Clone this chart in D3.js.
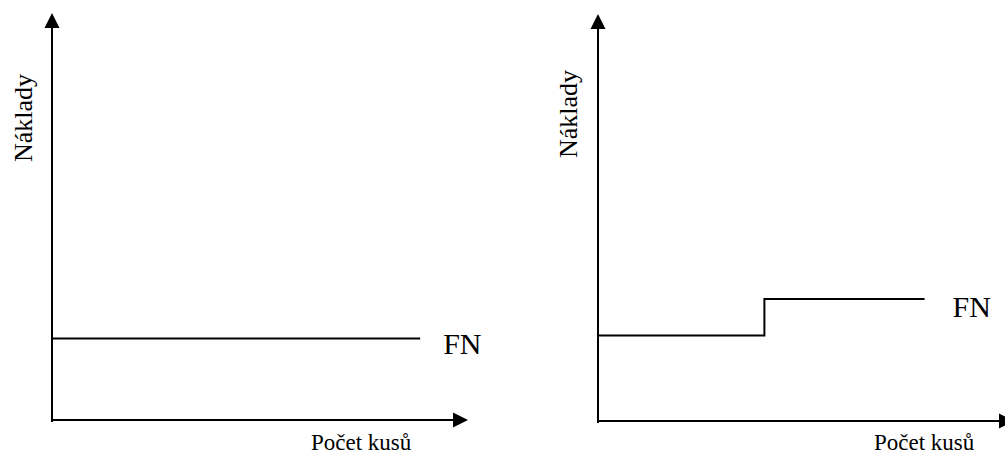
<!DOCTYPE html>
<html>
<head>
<meta charset="utf-8">
<script src="https://cdn.jsdelivr.net/npm/d3@7"></script>
<style>
  html, body { margin: 0; padding: 0; background: #fff; }
  svg { display: block; }
  text { font-family: "Liberation Serif", "Times New Roman", serif; fill: #000; }
</style>
</head>
<body>
<svg id="chart" width="1005" height="454"></svg>
<script>
// ---- data ----
const panels = ["fixed", "stepFixed"];
const xAxisLabel = "Počet kusů";
const yAxisLabel = "Náklady";
const seriesLabel = "FN";
// left panel: constant fixed costs (x, y in 0..100 units)
const fixedX = [0, 88.5];
const fixedY = [20, 20];
// right panel: step fixed costs
const stepX = [0, 40, 40, 78.5];
const stepY = [21, 21, 30, 30];

const svg = d3.select("#chart");

function drawPanel(originX, originY, xs, ys, labelPos) {
  const x = d3.scaleLinear().domain([0, 100]).range([originX, originX + 416]);
  const y = d3.scaleLinear().domain([0, 100]).range([originY, originY - 407]);
  const g = svg.append("g");
  const arrowL = 15, arrowW = 7.5;

  // y axis line
  g.append("line")
    .attr("x1", x(0)).attr("x2", x(0))
    .attr("y1", y(0) + 2).attr("y2", y(100) + arrowL)
    .attr("stroke", "#000").attr("stroke-width", 2);
  g.append("path")
    .attr("d", `M${x(0)},${y(100)} L${x(0) - arrowW},${y(100) + arrowL} L${x(0) + arrowW},${y(100) + arrowL} Z`)
    .attr("fill", "#000");

  // x axis line
  g.append("line")
    .attr("x1", x(0) - 1).attr("x2", x(100) - arrowL)
    .attr("y1", y(0)).attr("y2", y(0))
    .attr("stroke", "#000").attr("stroke-width", 2);
  g.append("path")
    .attr("d", `M${x(100)},${y(0)} L${x(100) - arrowL},${y(0) - arrowW} L${x(100) - arrowL},${y(0) + arrowW} Z`)
    .attr("fill", "#000");

  // series line
  const pts = xs.map((v, i) => [v, ys[i]]);
  g.append("path")
    .datum(pts)
    .attr("d", d3.line().x(d => x(d[0])).y(d => y(d[1])))
    .attr("fill", "none").attr("stroke", "#000").attr("stroke-width", 2);

  // FN label
  const last = pts[pts.length - 1];
  g.append("text")
    .attr("x", x(last[0]) + labelPos.dx)
    .attr("y", y(last[1]) + labelPos.dy)
    .attr("font-size", 30)
    .text(seriesLabel);

  // x axis label
  g.append("text")
    .attr("x", labelPos.xlab)
    .attr("y", 450)
    .attr("font-size", 23)
    .text(xAxisLabel);

  // y axis label
  g.append("text")
    .attr("transform", `translate(${x(0) - labelPos.ylabOff},${labelPos.ylabY}) rotate(-90)`)
    .attr("font-size", 26)
    .text(yAxisLabel);
}

drawPanel(52, 420, fixedX, fixedY, { dx: 23, dy: 15, xlab: 311, ylabOff: 20, ylabY: 162 });
drawPanel(598, 421, stepX, stepY, { dx: 28, dy: 18, xlab: 874, ylabOff: 21, ylabY: 158 });
</script>
</body>
</html>
